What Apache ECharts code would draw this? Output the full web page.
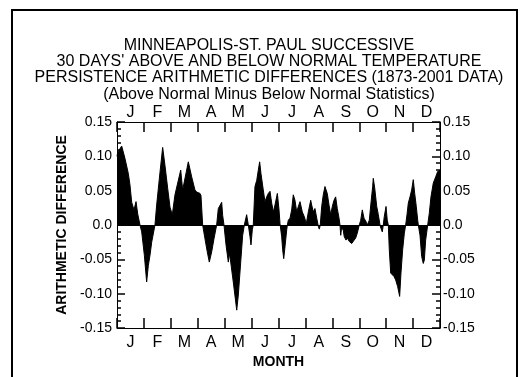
<!DOCTYPE html>
<html>
<head>
<meta charset="utf-8">
<script src="https://cdn.jsdelivr.net/npm/echarts@6/dist/echarts.min.js"></script>
<style>html,body{margin:0;padding:0;background:#fff}#c{width:526px;height:377px}</style>
</head>
<body>
<div id="c"></div>
<script>
const titleLines = [
  "MINNEAPOLIS-ST. PAUL SUCCESSIVE",
  "30 DAYS' ABOVE AND BELOW NORMAL TEMPERATURE",
  "PERSISTENCE ARITHMETIC DIFFERENCES (1873-2001 DATA)",
  "(Above Normal Minus Below Normal Statistics)"
];
const months = ["Jan","Feb","Mar","Apr","May","Jun","Jul","Aug","Sep","Oct","Nov","Dec"];
const yTicks = [-0.15, 0.15, 0.05];
const days = [0,0.8,5.3,9,12.8,14.7,16.6,19.2,21.5,23.4,26,27.9,30.9,33.5,35.4,37.3,39.2,42.9,44.8,48.6,51.6,54.2,57.3,59.9,62.5,65.5,69.3,72,74.2,80.6,84.4,88.1,90,93.8,94.9,96.8,99.4,102,104.3,107,109.6,112.6,114.5,116.4,118.3,119.4,120.9,123.2,125.8,126.9,128.5,131.4,135.3,137.1,139.8,142,143.9,146.5,148.4,150.3,151.4,152.9,154,155.9,157.9,159.7,161.2,162.7,165.3,167.2,169.2,171,172.9,174.8,176.7,178.5,181.2,183.1,184.2,185.3,186.1,187.2,188.4,189.8,191.8,192.5,193.6,195.5,197.4,199.2,201.1,203.1,204.9,206.8,209.4,211.7,213.9,216.2,218.9,220,221.9,223.7,225.7,227.5,228.6,229.7,231.3,233.1,235,236.2,237.6,239.6,241.5,243.3,245.2,247.1,248.9,250.9,252,252.8,253.9,255.7,256.8,258.8,260.2,262.5,265.2,267,269.7,271.5,273.8,275.4,277.2,279.1,281.4,282.8,285.1,287,288.9,289.6,291.2,293.5,295.3,297.2,298.3,299.8,300.9,302,304,305.4,306.6,307.7,309.3,311.1,313,314.9,317.2,319.4,320.9,322.8,324.7,326.2,327.7,329.2,331.1,333,334.8,336.4,338.2,339.8,340.5,342.4,344.3,346.1,347.3,348.8,351.1,352.9,354.8,357.4,360.1,362.4,363.9,365];
const diffs = [0.100,0.106,0.115,0.097,0.075,0.058,0.033,0.022,0.034,0.016,0,-0.010,-0.044,-0.083,-0.059,-0.044,-0.025,0,0.029,0.077,0.113,0.087,0.053,0.026,0.015,0.044,0.065,0.080,0.051,0.092,0.070,0.051,0.048,0.046,0.043,0,-0.020,-0.039,-0.054,-0.039,-0.020,0,0.024,0.026,0.033,0.014,0,-0.029,-0.054,-0.041,-0.054,-0.083,-0.124,-0.102,-0.054,-0.015,0,0.015,0,-0.017,-0.029,-0.007,0,0.056,0.065,0.080,0.092,0.075,0.051,0.034,0.041,0.046,0.049,0.032,0.019,0.029,0.046,0.022,0.002,0,-0.017,-0.036,-0.049,-0.032,-0.007,0,0.007,0.010,0.022,0.044,0.036,0.019,0.027,0.034,0.019,0.012,0.002,0.019,0.036,0.029,0.019,0.024,0.010,-0.002,-0.006,0,0.027,0.044,0.056,0.058,0.046,0.029,0.015,0.027,0.036,0.041,0.024,0.010,0,-0.015,-0.003,-0.008,-0.017,-0.022,-0.019,-0.024,-0.027,-0.026,-0.019,-0.012,0,0.007,0.022,0.010,0.005,0.000,0.007,0.032,0.056,0.068,0.054,0.027,0.015,0,-0.005,-0.010,0,0.012,0.027,0.007,0,-0.036,-0.070,-0.070,-0.075,-0.080,-0.090,-0.104,-0.070,-0.036,-0.012,0,0.015,0.032,0.041,0.051,0.066,0.046,0.027,0.007,0,-0.015,-0.046,-0.056,-0.051,-0.022,0,0.017,0.041,0.061,0.070,0.078,0.080,0.080];

const FONT = "'Liberation Sans', Arial, sans-serif";
const TICK_W = 1.5;
const chart = echarts.init(document.getElementById('c'), null, {renderer: 'canvas'});
const fmtY = v => Math.abs(v) < 1e-9 ? '0.0' : v.toFixed(2);

const monthAxis = (pos) => ({
  type: 'category', data: months, position: pos, boundaryGap: true,
  axisLine: {show: true, onZero: false, lineStyle: {color: '#000', width: 1}},
  axisTick: {show: true, inside: true, length: 10, interval: 0, lineStyle: {color: '#000', width: TICK_W}},
  axisLabel: {interval: 0, formatter: v => v.charAt(0), fontFamily: FONT, fontSize: 16, color: '#000', margin: pos === 'top' ? 1 : 7},
  splitLine: {show: false}
});
const yAxisDef = (pos) => ({
  type: 'value', position: pos, min: yTicks[0], max: yTicks[1], interval: yTicks[2],
  axisLine: {show: true, onZero: false, lineStyle: {color: '#000', width: 1}},
  axisTick: {show: true, inside: true, length: 8, lineStyle: {color: '#000', width: TICK_W}},
  minorTick: {show: true, splitNumber: 5, length: 4, lineStyle: {color: '#000', width: TICK_W}},
  splitLine: {show: false},
  axisLabel: {formatter: fmtY, fontFamily: FONT, fontSize: 14, color: '#000', margin: pos === 'left' ? 5 : 3}
});
const yL = yAxisDef('left');
Object.assign(yL, {name: 'ARITHMETIC DIFFERENCE', nameLocation: 'middle', nameGap: 41, nameRotate: 90,
  nameTextStyle: {fontFamily: FONT, fontSize: 14, fontWeight: 'bold', color: '#000'}});
// axis that only carries the "MONTH" name
const xName = {
  type: 'category', data: months, position: 'bottom', boundaryGap: true,
  axisLine: {show: false, onZero: false}, axisTick: {show: false}, axisLabel: {show: false}, splitLine: {show: false},
  name: 'MONTH', nameLocation: 'middle', nameGap: 27,
  nameTextStyle: {fontFamily: FONT, fontSize: 14, fontWeight: 'bold', color: '#000'}
};

chart.setOption({
  animation: false,
  backgroundColor: '#fff',
  grid: {left: 117, right: 86, top: 122, bottom: 49, containLabel: false},
  xAxis: [monthAxis('bottom'), monthAxis('top'), {type: 'value', position: 'top', min: 0, max: 365, show: false}, xName],
  yAxis: [yL, yAxisDef('right')],
  graphic: [
    {type: 'rect', shape: {x: 12, y: 10, width: 505, height: 420}, style: {fill: 'none', stroke: '#000', lineWidth: 2}, silent: true},
    {type: 'text', x: 269, y: 37, style: {text: titleLines.join('\n'), textAlign: 'center', fontFamily: FONT, fontSize: 16, lineHeight: 16.4, fill: '#000'}}
  ],
  series: [{
    type: 'line', xAxisIndex: 2, yAxisIndex: 0,
    data: days.map((d, i) => [d, diffs[i]]),
    showSymbol: false, symbol: 'none',
    lineStyle: {color: '#000', width: 1},
    areaStyle: {color: '#000', opacity: 1, origin: 0},
    markLine: {silent: true, symbol: 'none', label: {show: false}, lineStyle: {color: '#000', type: 'solid', width: 1},
      data: [{yAxis: 0}]}
  }]
});
</script>
</body>
</html>
